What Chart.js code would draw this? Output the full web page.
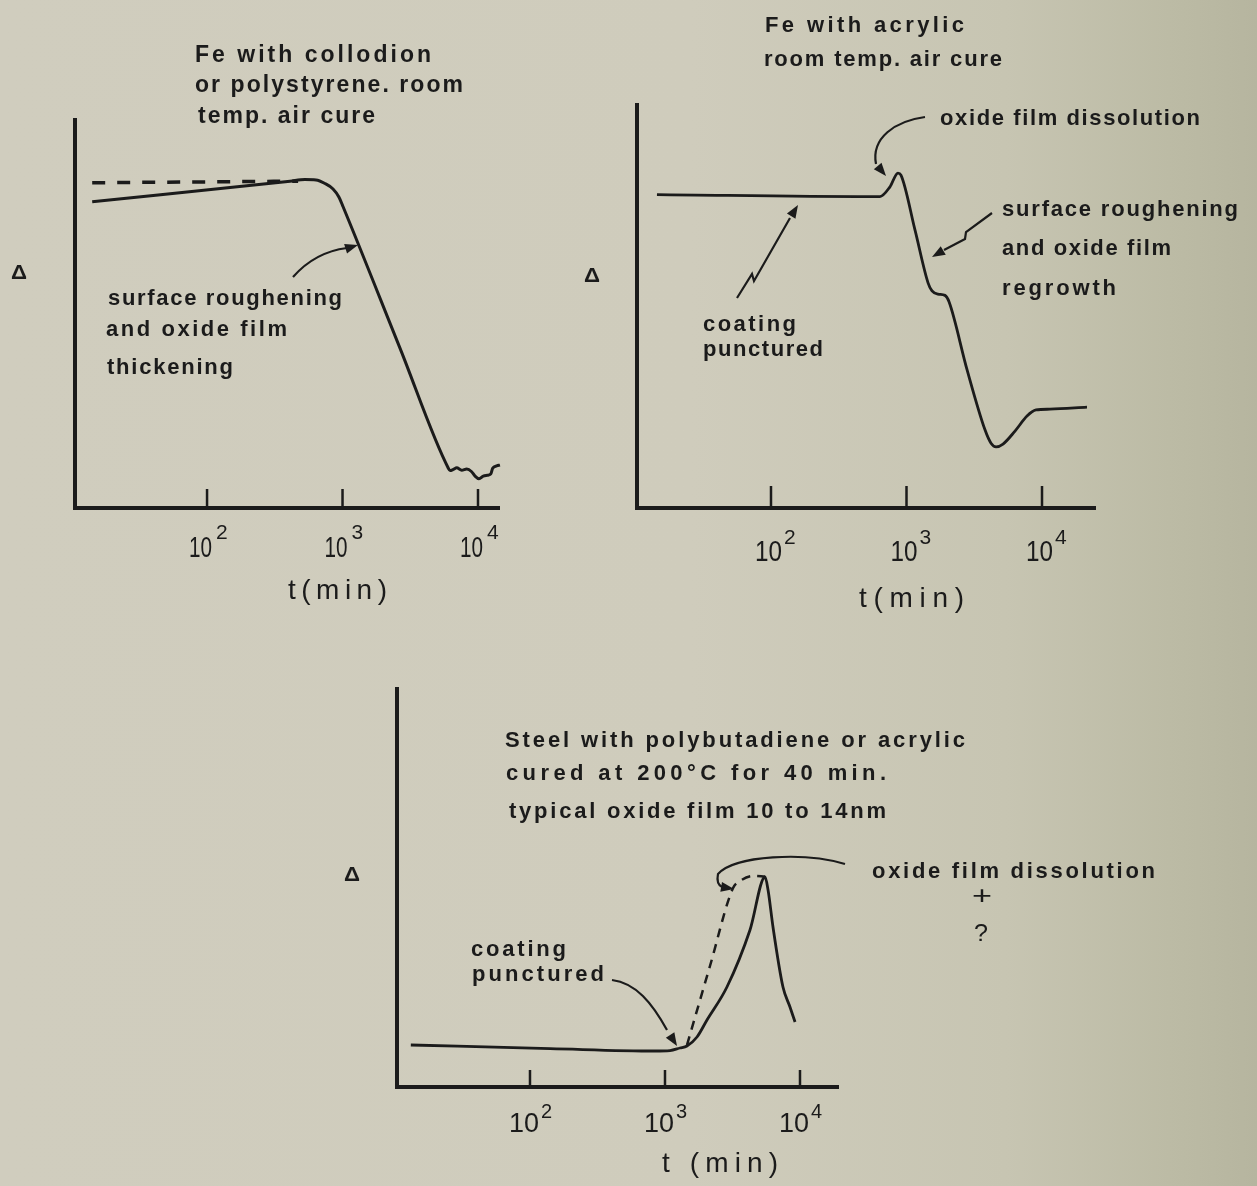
<!DOCTYPE html>
<html>
<head>
<meta charset="utf-8">
<script src="https://cdn.jsdelivr.net/npm/chart.js@4.4.0/dist/chart.umd.min.js"></script>
<style>
  html, body { margin: 0; padding: 0; }
  body {
    width: 1257px; height: 1186px; position: relative; overflow: hidden;
    background: linear-gradient(to right, #d0cdbe 0%, #cfccbc 55%, #c7c5b2 80%, #bcbba5 93%, #b6b59f 100%);
  }
  canvas { position: absolute; }
</style>
</head>
<body>
<canvas id="c1" width="560" height="620" style="left:0;top:0;width:560px;height:620px"></canvas>
<canvas id="c2" width="697" height="620" style="left:560px;top:0;width:697px;height:620px"></canvas>
<canvas id="c3" width="927" height="526" style="left:330px;top:660px;width:927px;height:526px"></canvas>
<script>
const INK = '#1b1b1b';
const FONT = '"Liberation Sans", Arial, sans-serif';

// decade ticks on the time axis (same for all three panels)
const tickValues = [1e2, 1e3, 1e4];
const tickExps = ['2', '3', '4'];

// panel 1: Fe with collodion or polystyrene, t in min, Delta in arbitrary units
const p1Time = [14.2, 410, 528, 637, 742, 851, 942, 1008, 2655, 6040, 6215, 6577, 6966, 7585, 8260, 8980, 9506, 10170, 10940, 11720, 12410, 12830, 13740, 14530];
const p1Delta = [78.5, 83.8, 84.2, 84.1, 83.2, 81.8, 79.7, 77.3, 41.0, 10.2, 9.6, 9.9, 10.3, 9.7, 10.0, 9.3, 8.2, 7.5, 8.2, 8.4, 8.7, 10.2, 10.8, 11.0];
const p1DashTime = [14.2, 470];
const p1DashDelta = [83.4, 83.8];

// panel 2: Fe with acrylic
const p2Time = [14.4, 538, 637, 755, 865, 910, 1156, 1442, 1543, 1708, 1923, 2060, 2800, 3795, 4205, 4580, 5155, 6320, 7750, 9030, 11450, 21480];
const p2Delta = [77.4, 76.9, 76.9, 79.3, 82.7, 82.2, 68.6, 55.6, 53.6, 52.8, 52.5, 50.9, 34.1, 19.3, 16.0, 15.1, 15.8, 19.0, 22.7, 24.2, 24.4, 24.9];

// panel 3: steel with polybutadiene or acrylic, baked
const p3Time = [13.1, 141, 843, 1089, 1291, 1455, 1726, 2047, 2877, 4262, 5510, 5800, 6310, 7480, 8430, 9190];
const p3Delta = [10.5, 9.6, 9.0, 9.1, 9.75, 10.25, 12.5, 16.75, 25, 39.25, 52.5, 49.25, 40, 25, 20, 16.25];
const p3DashTime = [1455, 2154, 3193, 3594, 4487, 5510];
const p3DashDelta = [10.5, 30.25, 49.75, 51.5, 52.75, 52.6];

const pts = (xs, ys) => xs.map((x, i) => ({ x, y: ys[i] }));

function fitText(ctx, str, x, y, w, size, weight) {
  ctx.font = `${weight} ${size}px ${FONT}`;
  const chars = [...str];
  const widths = chars.map(c => ctx.measureText(c).width);
  const natural = widths.reduce((a, b) => a + b, 0);
  if (chars.length < 2 || natural >= w) {
    ctx.save();
    ctx.translate(x, y);
    ctx.scale(w / natural, 1);
    ctx.fillText(str, 0, 0);
    ctx.restore();
    return;
  }
  const gap = (w - natural) / (chars.length - 1);
  let cx = x;
  chars.forEach((c, i) => { ctx.fillText(c, cx, y); cx += widths[i] + gap; });
}

function drawArrow(ctx, ar, ox, oy) {
  ctx.lineWidth = 2.2;
  ctx.beginPath();
  ar.path.forEach(([cmd, ...n]) => {
    const q = n.map((v, i) => v - (i % 2 ? oy : ox));
    if (cmd === 'M') ctx.moveTo(...q);
    else if (cmd === 'L') ctx.lineTo(...q);
    else if (cmd === 'Q') ctx.quadraticCurveTo(...q);
    else ctx.bezierCurveTo(...q);
  });
  ctx.stroke();
  const tx = ar.tip[0] - ox, ty = ar.tip[1] - oy;
  let dx = tx - (ar.from[0] - ox), dy = ty - (ar.from[1] - oy);
  const len = Math.hypot(dx, dy); dx /= len; dy /= len;
  const bx = tx - dx * 13, by = ty - dy * 13;
  ctx.beginPath();
  ctx.moveTo(tx, ty);
  ctx.lineTo(bx - dy * 5, by + dx * 5);
  ctx.lineTo(bx + dy * 5, by - dx * 5);
  ctx.closePath();
  ctx.fill();
}

function sketchPlugin(p) {
  return {
    id: 'sketch',
    afterDatasetsDraw(chart) {
      const { ctx, chartArea: a } = chart;
      const x = chart.scales.x;
      const ox = p.left, oy = p.top;
      ctx.save();
      ctx.strokeStyle = INK;
      ctx.fillStyle = INK;
      ctx.textBaseline = 'alphabetic';

      ctx.lineWidth = 4;
      ctx.beginPath();
      ctx.moveTo(a.left, a.top);
      ctx.lineTo(a.left, a.bottom + 2);
      ctx.moveTo(a.left - 2, a.bottom);
      ctx.lineTo(a.right, a.bottom);
      ctx.stroke();

      ctx.lineWidth = 2.5;
      tickValues.forEach((v, i) => {
        const px = x.getPixelForValue(v);
        ctx.beginPath();
        ctx.moveTo(px, a.bottom);
        ctx.lineTo(px, a.bottom - p.tickLen);
        ctx.stroke();
        const l = p.lab;
        fitText(ctx, '10', px + l.off, l.base - oy, l.w, l.size, 'normal');
        ctx.font = `normal ${l.supSize}px ${FONT}`;
        ctx.fillText(tickExps[i], px + l.supOff, l.supBase - oy);
      });

      p.texts.forEach(([s, tx, ty, w, size, weight]) =>
        fitText(ctx, s, tx - ox, ty - oy, w, size, weight || 'bold'));
      p.arrows.forEach(ar => drawArrow(ctx, ar, ox, oy));
      ctx.restore();
    }
  };
}

function makePanel(p) {
  return new Chart(document.getElementById(p.id), {
    type: 'line',
    data: { datasets: p.datasets },
    options: {
      responsive: false,
      animation: false,
      devicePixelRatio: 1,
      layout: { padding: p.padding },
      plugins: { legend: { display: false }, tooltip: { enabled: false } },
      elements: { point: { radius: 0 } },
      scales: {
        x: { type: 'logarithmic', min: p.xmin, max: p.xmax, display: false },
        y: { type: 'linear', min: 0, max: 100, display: false }
      }
    },
    plugins: [sketchPlugin(p)]
  });
}

const solid = (data, w) => ({ data, borderColor: INK, borderWidth: w, fill: false, clip: false, cubicInterpolationMode: 'monotone' });
const dashed = (data, w, dash) => ({ ...solid(data, w), borderDash: dash });

makePanel({
  id: 'c1', left: 0, top: 0,
  padding: { left: 75, top: 118, right: 60, bottom: 112 },
  xmin: 10.6, xmax: 14535, tickLen: 19,
  lab: { off: -18, w: 23, base: 557, size: 29, supOff: 9, supBase: 539, supSize: 21 },
  datasets: [solid(pts(p1Time, p1Delta), 3), dashed(pts(p1DashTime, p1DashDelta), 3.5, [13, 12])],
  texts: [
    ['Fe with collodion', 195, 62, 236, 23],
    ['or polystyrene. room', 195, 92, 268, 23],
    ['temp. air cure', 198, 123, 177, 23],
    ['surface roughening', 108, 305, 234, 22],
    ['and oxide film', 106, 336, 181, 22],
    ['thickening', 107, 374, 126, 22],
    ['\u0394', 11, 279, 16, 20],
    ['t(min)', 288, 599, 99, 28, 'normal']
  ],
  arrows: [
    { path: [['M', 293, 277], ['Q', 315, 252, 347, 248]], from: [345, 249], tip: [358, 245] }
  ]
});

makePanel({
  id: 'c2', left: 560, top: 0,
  padding: { left: 77, top: 103, right: 161, bottom: 112 },
  xmin: 10.26, xmax: 25030, tickLen: 22,
  lab: { off: -16, w: 27, base: 561, size: 29, supOff: 13, supBase: 544, supSize: 21 },
  datasets: [solid(pts(p2Time, p2Delta), 2.8)],
  texts: [
    ['Fe with acrylic', 765, 32, 199, 22],
    ['room temp. air cure', 764, 66, 238, 22],
    ['oxide film dissolution', 940, 125, 260, 22],
    ['surface roughening', 1002, 216, 236, 22],
    ['and oxide film', 1002, 255, 169, 22],
    ['regrowth', 1002, 295, 114, 22],
    ['coating', 703, 331, 93, 22],
    ['punctured', 703, 356, 120, 22],
    ['\u0394', 584, 282, 16, 20],
    ['t(min)', 859, 607, 105, 28, 'normal']
  ],
  arrows: [
    { path: [['M', 925, 117], ['C', 895, 121, 871, 138, 876, 164]], from: [876, 164], tip: [886, 176] },
    { path: [['M', 992, 213], ['L', 966, 232], ['L', 965, 239], ['L', 944, 250]], from: [944, 250], tip: [932, 257] },
    { path: [['M', 737, 298], ['L', 752, 274], ['L', 754, 281], ['L', 790, 218]], from: [790, 218], tip: [798, 205] }
  ]
});

makePanel({
  id: 'c3', left: 330, top: 660,
  padding: { left: 67, top: 27, right: 418, bottom: 99 },
  xmin: 10.35, xmax: 19450, tickLen: 17,
  lab: { off: -21, w: 30, base: 1132, size: 27, supOff: 11, supBase: 1118, supSize: 20 },
  datasets: [solid(pts(p3Time, p3Delta), 2.8), dashed(pts(p3DashTime, p3DashDelta), 2.5, [9, 7])],
  texts: [
    ['Steel with polybutadiene or acrylic', 505, 747, 460, 22],
    ['cured at 200\u00b0C for 40 min.', 506, 780, 380, 22],
    ['typical oxide film 10 to 14nm', 509, 818, 377, 22],
    ['\u0394', 344, 881, 16, 20],
    ['oxide film dissolution', 872, 878, 283, 22],
    ['+', 972, 904, 20, 26, 'normal'],
    ['?', 974, 941, 14, 24, 'normal'],
    ['coating', 471, 956, 95, 22],
    ['punctured', 472, 981, 132, 22],
    ['t (min)', 662, 1172, 116, 28, 'normal']
  ],
  arrows: [
    { path: [['M', 845, 864], ['C', 805, 852, 735, 855, 718, 874], ['Q', 716, 884, 722, 887]], from: [722, 887], tip: [734, 889] },
    { path: [['M', 612, 980], ['C', 636, 983, 652, 1003, 667, 1030]], from: [667, 1030], tip: [677, 1046] }
  ]
});
</script>
</body>
</html>
